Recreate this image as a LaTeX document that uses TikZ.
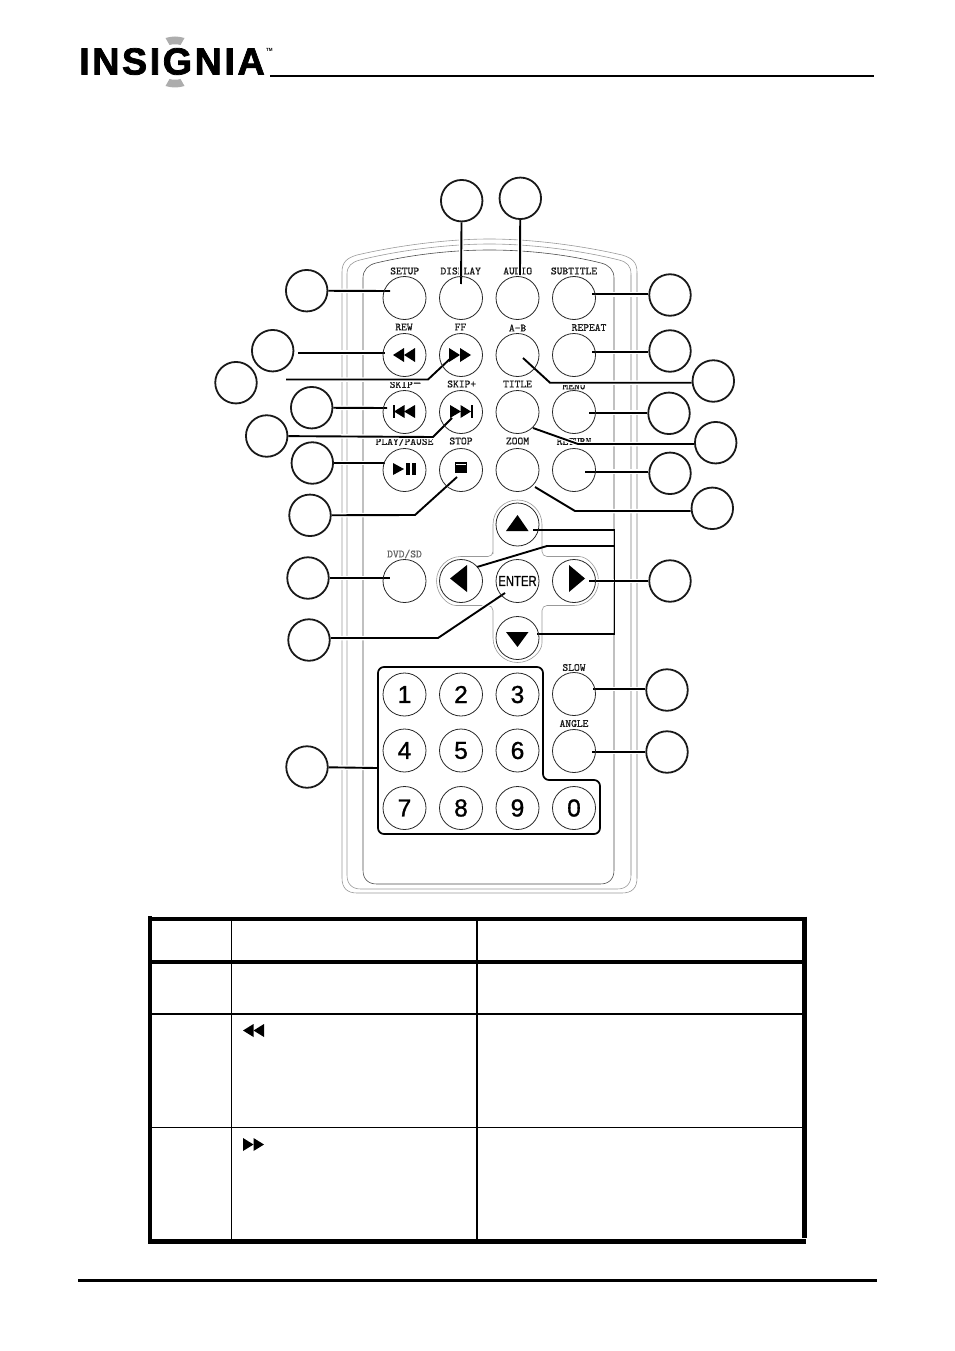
\documentclass[tikz,border=0pt]{standalone}
\usepackage{fontspec}
\setsansfont{Liberation Sans}
\newfontfamily\logofont[LetterSpace=6.8,FakeBold=2]{Liberation Sans Bold}
\newfontfamily\keyfont[FakeBold=1.1]{Liberation Sans}
\newfontfamily\lblfont[FakeBold=0.9]{Latin Modern Mono}
\usetikzlibrary{backgrounds}
\definecolor{logogray}{gray}{0.68}
\definecolor{shellgray}{gray}{0.6}
\tikzset{
btn/.style={circle,draw=black!85,line width=0.8pt,minimum size=43pt,inner sep=0pt},
callout/.style={circle,draw=black!90,line width=1.8pt,minimum size=41.5pt,inner sep=0pt},
lbl/.style={inner sep=0pt,text=black!90,font=\fontsize{11}{11}\lblfont},
digit/.style={font=\fontsize{24.5}{25}\keyfont},
leader/.style={line width=1.9pt,preaction={draw=white,line width=4.5pt}},
shell/.style={draw=shellgray,line width=0.6pt},
}
\begin{document}
\begin{tikzpicture}[x=1pt,y=-1pt]
\useasboundingbox(0,0)rectangle(954,1351);
\node[inner sep=0pt,anchor=west,font=\fontsize{37.7}{38}\logofont](logo)at(79,61.5){INSIGNIA};
\node[inner sep=0pt,anchor=west,font=\fontsize{4.5}{5}\sffamily\bfseries](tm)at(266,50){TM};
\fill[logogray](165.5,38)..controls(172,36)and(178,36)..(184.5,38)--(180.5,45)..controls(177,44)and(173,44)..(169.5,45)--cycle;
\fill[logogray](169.5,79)..controls(173,80)and(177,80)..(180.5,79)--(184.5,86)..controls(178,88)and(172,88)..(165.5,86)--cycle;
\draw[line width=2pt](270,76)--(874,76);
\draw[line width=3pt](78,1280.5)--(877,1280.5);
\node[btn](setup)at(404.5,298){};
\node[btn](display)at(461,298){};
\node[btn](audio)at(517.5,298){};
\node[btn](subtitle)at(574,298){};
\node[btn](rew)at(404.5,355){};
\node[btn](ff)at(461,355){};
\node[btn](ab)at(517.5,355){};
\node[btn](repeatb)at(574,355){};
\node[btn](skipm)at(404.5,412){};
\node[btn](skipp)at(461,412){};
\node[btn](titleb)at(517.5,412){};
\node[btn](menu)at(574,412){};
\node[btn](play)at(404.5,470){};
\node[btn](stop)at(461,470){};
\node[btn](zoomb)at(517.5,470){};
\node[btn](return)at(574,470){};
\node[btn](dvd)at(404.5,581){};
\node[btn](up)at(517.5,524.5){};
\node[btn](left)at(461,581){};
\node[btn,font=\fontsize{14.5}{15}\keyfont](enter)at(517.5,581){\scalebox{0.78}[1]{ENTER}};
\node[btn](right)at(574,581){};
\node[btn](down)at(517.5,638){};
\node[btn](slow)at(574,694){};
\node[btn](angle)at(574,751){};
\node[btn,digit](k1)at(404.5,694.5){1};
\node[btn,digit](k2)at(461,694.5){2};
\node[btn,digit](k3)at(517.5,694.5){3};
\node[btn,digit](k4)at(404.5,750.5){4};
\node[btn,digit](k5)at(461,750.5){5};
\node[btn,digit](k6)at(517.5,750.5){6};
\node[btn,digit](k7)at(404.5,808){7};
\node[btn,digit](k8)at(461,808){8};
\node[btn,digit](k9)at(517.5,808){9};
\node[btn,digit](k0)at(574,808){0};
\draw[line width=1.7pt,rounded corners=6pt](378,667)--(543,667)--(543,780)--(600,780)--(600,834)--(378,834)--cycle;
\fill(393,355)--(404,348)--(404,362)--cycle;
\fill(404,355)--(415,348)--(415,362)--cycle;
\fill(471,355)--(460,348)--(460,362)--cycle;
\fill(460,355)--(449,348)--(449,362)--cycle;
\fill(393,405)rectangle(394.5,418);
\fill(394,411.5)--(404.5,405)--(404.5,418)--cycle;
\fill(404,411.5)--(415,405)--(415,418)--cycle;
\fill(471,405)rectangle(472.5,418);
\fill(471,411.5)--(460.5,405)--(460.5,418)--cycle;
\fill(461,411.5)--(450,405)--(450,418)--cycle;
\fill(404,469)--(393,463)--(393,475)--cycle;
\fill(406,463)rectangle(410,475);
\fill(412,463)rectangle(416,475);
\fill(455,462)rectangle(466.5,473);
\draw[white,line width=0.8pt](456,464.5)--(465.5,464.5);
\fill(517.5,515)--(506,531)--(528.5,531)--cycle;
\fill(517.5,647)--(506,632)--(528.5,632)--cycle;
\fill(450,578.5)--(467,565)--(467,592)--cycle;
\fill(585,578.5)--(569,565)--(569,592)--cycle;
\fill(253.5,1024)--(243,1030.5)--(253.5,1037)--cycle;
\fill(264,1024)--(253.5,1030.5)--(264,1037)--cycle;
\fill(253.5,1138)--(264,1144.5)--(253.5,1151)--cycle;
\fill(243,1138)--(253.5,1144.5)--(243,1151)--cycle;
\draw[line width=3.5pt](150,916)--(150,1243);
\draw[line width=4pt](148,918.5)--(807,918.5);
\draw[line width=5pt](804.5,916.5)--(804.5,1238);
\draw[line width=5pt](148,1241.5)--(806,1241.5);
\draw[line width=3.5pt](150,962)--(803,962);
\draw[line width=1.7pt](150,1014)--(803,1014);
\draw[line width=1pt](150,1127.3)--(803,1127.3);
\draw[line width=1pt](231,918)--(231,1241);
\draw[line width=1.5pt](477,918)--(477,1241);
\node[callout](cdisplay)at(461.7,200.7){};
\node[callout](caudio)at(520.3,198.3){};
\node[callout](csetup)at(306.7,290.7){};
\node[callout](crew)at(272.7,350.7){};
\node[callout](cff)at(236,382.7){};
\node[callout](cskipm)at(311.7,407.7){};
\node[callout](cskipp)at(266.7,436){};
\node[callout](cplay)at(312.3,463){};
\node[callout](cstop)at(310,515.3){};
\node[callout](cdvd)at(308,578){};
\node[callout](center)at(309,640){};
\node[callout](ckeys)at(307,767){};
\node[callout](csubtitle)at(670,295){};
\node[callout](crepeat)at(670,351){};
\node[callout](cab)at(713.3,381){};
\node[callout](cmenu)at(669,413.3){};
\node[callout](ctitle)at(715.7,442.7){};
\node[callout](creturn)at(670,473.3){};
\node[callout](czoom)at(712.3,508.3){};
\node[callout](carrows)at(670,581){};
\node[callout](cslow)at(667,690){};
\node[callout](cangle)at(667,752){};
\coordinate(esetup)at(390,291);
\coordinate(edisplay)at(461,284);
\coordinate(eaudio)at(520,275);
\coordinate(esubtitle)at(592,294.3);
\coordinate(frew)at(298,352.7);
\coordinate(erew)at(385,352.7);
\coordinate(erepeat)at(592,352);
\coordinate(fff)at(286,379.5);
\coordinate(kff)at(428,379.5);
\coordinate(eff)at(452,357);
\coordinate(kab)at(550,382.7);
\coordinate(eab)at(523,358);
\coordinate(eskipm)at(387,408);
\coordinate(emenu)at(589,412.7);
\coordinate(kskipp)at(433,437);
\coordinate(eskipp)at(452,418);
\coordinate(ktitle)at(578,444);
\coordinate(etitle)at(533,428);
\coordinate(eplay)at(385,463);
\coordinate(ereturn)at(585,471.7);
\coordinate(kstop)at(415,515);
\coordinate(estop)at(457,477);
\coordinate(kzoom)at(575,511);
\coordinate(ezoom)at(535,487);
\coordinate(edvd)at(390,578);
\coordinate(eright)at(589,581);
\coordinate(kenter)at(438,638);
\coordinate(eenter)at(505,593);
\coordinate(ekeys)at(377,768);
\coordinate(eslow)at(593,689);
\coordinate(eangle)at(592,752);
\coordinate(eup)at(533,530);
\coordinate(kup)at(614.5,530);
\coordinate(kdown)at(614.5,634);
\coordinate(edown)at(537,634);
\coordinate(jleft)at(614.5,546);
\coordinate(kleft)at(547,546);
\coordinate(eleft)at(477,567);
\begin{pgfonlayer}{background}
\draw[shell](342,878)--(342,272)..controls(342,262)and(347,258)..(357,255)..controls(400,245)and(450,239)..(489.5,239)..controls(529,239)and(579,245)..(622,255)..controls(632,258)and(637,262)..(637,272)--(637,878)..controls(637,888)and(632,893)..(622,893)--(357,893)..controls(347,893)and(342,888)..(342,878);
\draw[shell](347,875)--(347,274)..controls(347,266)and(352,262)..(360,260)..controls(400,250)and(450,244)..(489.5,244)..controls(529,244)and(579,250)..(619,260)..controls(627,262)and(631,266)..(631,274)--(631,875)..controls(631,884)and(626,889)..(617,889)--(361,889)..controls(352,889)and(347,884)..(347,875);
\draw[shell,black!70](363,870)--(363,278)..controls(363,270)and(368,265)..(376,263)..controls(410,255)and(450,250)..(489.5,250)..controls(529,250)and(569,255)..(601,263)..controls(609,265)and(614,270)..(614,278)--(614,870)..controls(614,879)and(609,884)..(600,884)--(377,884)..controls(368,884)and(363,879)..(363,870);
\draw[black!18,line width=1.9pt](631,275)--(631,875);
\draw[black!18,line width=1.4pt](637,273)--(637,878);
\draw[shell](493,549)--(493,524.5)arc[start angle=180,end angle=360,radius=24.5]--(542,549)[rounded corners=5pt]--(542,556.5)--(574,556.5)[rounded corners=0pt]arc[start angle=-90,end angle=90,radius=24.5][rounded corners=5pt]--(542,605.5)--(542,638)[rounded corners=0pt]arc[start angle=0,end angle=180,radius=24.5][rounded corners=5pt]--(493,605.5)--(461,605.5)[rounded corners=0pt]arc[start angle=90,end angle=270,radius=24.5][rounded corners=5pt]--(493,556.5)--cycle;
\node[lbl](lsetup)at(404.7,271){SETUP};
\node[lbl](ldisplay)at(460.7,271){DISPLAY};
\node[lbl](laudio)at(517.7,271){AUDIO};
\node[lbl](lsubtitle)at(574,271){SUBTITLE};
\node[lbl](lrew)at(404,327){REW};
\node[lbl](lff)at(460.5,327){FF};
\node[lbl](lab)at(517.6,328){A-B};
\node[lbl](lrepeat)at(589,327.5){REPEAT};
\node[lbl](lskipm)at(405.6,384.5){SKIP\scalebox{1.5}[1.4]{-}};
\node[lbl](lskipp)at(461.7,384){SKIP+};
\node[lbl](ltitle)at(517.5,384){TITLE};
\node[lbl](lmenu)at(574,386){MENU};
\node[lbl](lplay)at(404.5,441.5){PLAY/PAUSE};
\node[lbl](lstop)at(461,441){STOP};
\node[lbl](lzoom)at(517.5,441){ZOOM};
\node[lbl](lreturn)at(574,441.5){RETURN};
\node[lbl,text=black!60](ldvd)at(404.5,554){DVD/SD};
\node[lbl](lslow)at(574,667.5){SLOW};
\node[lbl](langle)at(574,723.5){ANGLE};
\draw[leader](csetup)--(esetup);
\draw[leader](cdisplay)--(edisplay);
\draw[leader](caudio)--(eaudio);
\draw[leader](esubtitle)--(esubtitle-|csubtitle.west);
\draw[leader](frew)--(erew);
\draw[leader](erepeat)--(erepeat-|crepeat.west);
\draw[leader](fff)--(kff)--(eff);
\draw[leader](kab-|cab.west)--(kab)--(eab);
\draw[leader](cskipm)--(eskipm);
\draw[leader](emenu-|cmenu.west)--(emenu);
\draw[leader](cskipp)--(kskipp)--(eskipp);
\draw[leader](ktitle-|ctitle.west)--(ktitle)--(etitle);
\draw[leader](cplay)--(eplay);
\draw[leader](ereturn-|creturn.west)--(ereturn);
\draw[leader](cstop)--(kstop)--(estop);
\draw[leader](kzoom-|czoom.west)--(kzoom)--(ezoom);
\draw[leader](cdvd)--(edvd);
\draw[leader](carrows)--(eright);
\draw[leader](kenter-|center.east)--(kenter)--(eenter);
\draw[leader](ckeys)--(ekeys);
\draw[leader](eslow-|cslow.west)--(eslow);
\draw[leader](cangle)--(eangle);
\draw[line width=1.9pt](eup)--(kup)--(kdown)--(edown);
\draw[line width=1.9pt](jleft)--(kleft)--(eleft);
\end{pgfonlayer}
\end{tikzpicture}
\end{document}
